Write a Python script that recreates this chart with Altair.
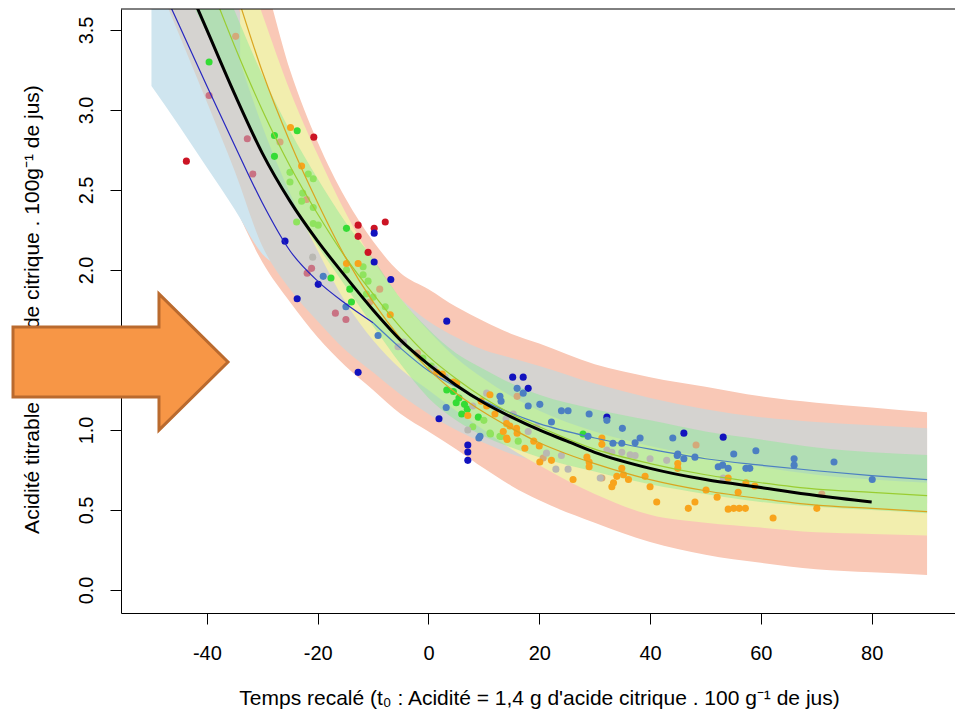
import altair as alt
import pandas as pd

# ---------------- bands (x, lower, upper) ----------------
PK_X = [-45, -40, -35, -30, -25, -20, -15, -10, -5, 0, 5, 10, 15, 20, 30, 40, 50, 60, 70, 80, 90]
PK_HI = [5.2, 4.7, 4.25, 3.85, 3.25, 2.80, 2.45, 2.18, 1.98, 1.88, 1.77, 1.68, 1.60, 1.54, 1.41, 1.33, 1.27, 1.21, 1.17, 1.14, 1.11]
PK_LO = [3.1, 2.75, 2.40, 2.05, 1.80, 1.58, 1.40, 1.25, 1.10, 0.99, 0.88, 0.76, 0.65, 0.56, 0.42, 0.30, 0.22, 0.17, 0.13, 0.11, 0.094]

LB_X = [-50, -45, -40, -35, -30, -25, -20, -15]
LB_HI = [5.0, 4.5, 4.0, 3.5, 3.0, 2.6, 2.3, 2.05]
LB_LO = [3.15, 2.90, 2.64, 2.38, 2.10, 1.98, 1.80, 1.65]

GR_X = [-48, -45, -40, -35, -30, -25, -20, -15, -10, -5, 0, 5, 10, 15, 20, 30, 40, 50, 60, 70, 80, 90]
GR_HI = [5.2, 4.8, 4.2, 3.7, 3.25, 2.85, 2.50, 2.22, 2.00, 1.82, 1.68, 1.58, 1.50, 1.45, 1.40, 1.29, 1.20, 1.13, 1.08, 1.05, 1.03, 1.01]
GR_LO = [3.72, 3.47, 3.05, 2.62, 2.15, 1.88, 1.68, 1.50, 1.36, 1.22, 1.10, 1.00, 0.92, 0.85, 0.80, 0.72, 0.66, 0.62, 0.59, 0.57, 0.55, 0.54]

YL_X = [-34, -30, -25, -20, -15, -10, -5, 0, 5, 10, 15, 20, 30, 40, 50, 60, 70, 80, 90]
YL_HI = [4.0, 3.60, 3.12, 2.72, 2.36, 2.06, 1.82, 1.62, 1.45, 1.32, 1.21, 1.12, 0.99, 0.90, 0.83, 0.77, 0.72, 0.69, 0.67]
YL_LO = [3.3, 2.9, 2.48, 2.12, 1.80, 1.56, 1.38, 1.25, 1.12, 1.00, 0.88, 0.78, 0.60, 0.47, 0.42, 0.39, 0.36, 0.35, 0.34]

GN_X = [-42, -40, -35, -30, -25, -20, -15, -10, -5, 0, 5, 10, 15, 20, 30, 40, 50, 60, 70, 80, 90]
GN_HI = [4.2, 4.05, 3.62, 3.22, 2.87, 2.57, 2.30, 2.07, 1.82, 1.63, 1.48, 1.38, 1.29, 1.22, 1.13, 1.06, 0.99, 0.94, 0.89, 0.86, 0.844]
GN_LO = [3.62, 3.48, 3.10, 2.72, 2.42, 2.15, 1.90, 1.65, 1.41, 1.20, 1.06, 0.96, 0.89, 0.83, 0.74, 0.66, 0.60, 0.55, 0.52, 0.50, 0.48]

# ---------------- fitted curves ----------------
BK_X = [-42, -40, -35, -30, -25, -20, -15, -10, -5, 0, 5, 10, 15, 20, 25, 30, 40, 50, 60, 70, 80]
BK_Y = [3.66, 3.50, 3.10, 2.73, 2.43, 2.18, 1.96, 1.75, 1.56, 1.41, 1.28, 1.17, 1.08, 1.00, 0.93, 0.86, 0.76, 0.69, 0.64, 0.59, 0.55]

NV_X = [-47, -45, -40, -35, -30, -25, -20, -15, -10]
NV_Y = [3.68, 3.53, 3.15, 2.78, 2.42, 2.12, 1.93, 1.79, 1.67]

SB_X = [-10, -5, 0, 5, 10, 20, 30, 40, 50, 60, 70, 80, 90]
SB_Y = [1.67, 1.51, 1.37, 1.27, 1.18, 1.04, 0.95, 0.88, 0.82, 0.78, 0.745, 0.715, 0.69]

GL_X = [-38, -35, -30, -25, -20, -15, -10, -5, 0, 5, 10, 15, 20, 30, 40, 50, 60, 70, 80, 90]
GL_Y = [3.66, 3.40, 3.00, 2.65, 2.35, 2.08, 1.85, 1.64, 1.46, 1.32, 1.20, 1.10, 1.02, 0.88, 0.79, 0.72, 0.67, 0.63, 0.61, 0.59]

OL_X = [-34, -30, -25, -20, -15, -10, -5, 0, 5, 10, 15, 20, 25, 30, 40, 50, 60, 70, 80, 90]
OL_Y = [3.66, 3.24, 2.80, 2.42, 2.08, 1.80, 1.57, 1.38, 1.23, 1.11, 1.01, 0.92, 0.85, 0.79, 0.69, 0.62, 0.57, 0.53, 0.51, 0.49]

# ---------------- observations ----------------
NAVY = [(-25.9, 2.18), (-9.8, 2.23), (-9.8, 2.05), (-6.8, 1.94), (-19.9, 1.91), (-23.7, 1.82), (-12.7, 1.36),
        (3.3, 1.68), (1.9, 1.07), (7.1, 0.906), (7.1, 0.862), (7.1, 0.81), (15.2, 1.33), (17.1, 1.33),
        (18.0, 1.26), (32.2, 1.08), (46.1, 0.98), (53.2, 0.955)]
STEEL = [(-19.0, 1.96), (-14.9, 1.77), (-9.1, 1.59), (3.2, 1.14), (9.1, 0.95), (12.9, 1.21), (13.1, 1.18),
         (16.0, 1.26), (17.1, 1.23), (18.0, 1.15), (20.1, 1.16), (24.0, 1.12), (25.2, 1.12), (29.0, 1.10),
         (32.2, 1.06), (35.0, 1.01), (38.2, 0.95), (37.3, 0.92), (22.2, 1.05), (28.8, 0.96), (33.3, 0.917),
         (34.9, 0.917), (44.1, 0.95), (44.9, 0.84), (46.1, 0.82), (45.0, 0.85), (48.1, 0.83), (55.1, 0.85),
         (59.1, 0.87), (52.3, 0.77), (53.1, 0.78), (54.1, 0.76), (57.3, 0.76), (58.0, 0.76), (66.0, 0.82),
         (66.0, 0.78), (73.2, 0.80), (80.1, 0.69), (9.3, 0.96)]
RED = [(-43.7, 2.68), (-20.7, 2.83), (-12.7, 2.28), (-12.7, 2.21), (-9.8, 2.26), (-7.8, 2.30), (-10.9, 2.11)]
ROSY = [(-39.6, 3.09), (-32.7, 2.82), (-31.7, 2.60), (-21.1, 2.01), (-21.9, 1.98), (-16.8, 1.73), (-14.9, 1.69)]
LIME = [(-39.6, 3.30), (-27.8, 2.84), (-23.7, 2.87), (-27.8, 2.71), (-14.8, 2.26), (-17.6, 1.95), (-14.2, 1.88),
        (-13.9, 1.80), (3.3, 1.25), (4.5, 1.24), (5.5, 1.20), (6.5, 1.16), (5.0, 1.17), (7.0, 1.13), (6.0, 1.10),
        (27.9, 0.975), (9.0, 1.08)]
LGREEN = [(-25.0, 2.61), (-25.0, 2.55), (-21.7, 2.60), (-20.8, 2.57), (-22.7, 2.48), (-22.9, 2.43), (-20.8, 2.39),
          (-23.8, 2.30), (-20.8, 2.29), (-19.9, 2.28), (-11.8, 2.02), (-14.8, 2.00), (-11.8, 1.97), (-10.9, 1.93),
          (-11.2, 1.85), (-10.0, 1.83), (-7.8, 1.77), (-1.0, 1.45), (0.5, 1.40), (11.1, 0.98), (13.2, 0.96),
          (12.9, 0.96), (11.2, 0.975), (16.2, 0.93), (10.0, 1.06), (8.0, 1.02)]
ORANGE = [(-24.9, 2.89), (-22.9, 2.65), (-14.8, 2.04), (-12.7, 2.04), (-6.9, 1.72), (1.5, 1.36), (4.5, 1.30),
          (5.1, 1.29), (7.1, 1.09), (11.1, 1.22), (14.1, 1.04), (14.1, 0.95), (14.7, 1.025), (15.9, 1.01),
          (14.2, 0.94), (17.4, 0.886), (20.1, 0.80), (22.2, 0.81), (26.1, 0.69), (28.6, 0.83), (29.0, 0.80),
          (29.0, 0.77), (31.3, 0.95), (31.3, 0.91), (34.0, 0.71), (35.2, 0.72), (36.1, 0.69), (33.4, 0.67),
          (33.1, 0.645), (34.9, 0.76), (39.1, 0.71), (40.0, 0.645), (41.2, 0.55), (46.9, 0.51), (45.0, 0.79),
          (45.0, 0.76), (50.1, 0.625), (48.1, 0.55), (52.1, 0.58), (54.1, 0.70), (55.9, 0.61), (54.1, 0.505),
          (55.1, 0.51), (56.1, 0.51), (57.2, 0.51), (57.3, 0.67), (58.9, 0.65), (62.2, 0.45), (70.1, 0.51),
          (2.5, 1.35), (9.5, 1.18), (10.5, 1.15), (12.0, 1.10), (16.0, 0.98), (19.0, 0.93), (20.0, 0.90), (13.5, 0.99)]
GRAY = [(-20.9, 2.08), (-5.5, 1.52), (10.5, 1.23), (7.1, 1.00), (8.0, 1.15), (15.3, 1.10), (19.5, 1.02),
        (21.3, 0.855), (23.0, 0.755), (25.2, 0.755), (24.0, 0.84), (31.0, 0.70), (32.2, 0.875), (33.1, 0.86),
        (34.9, 0.86), (36.4, 0.845), (37.3, 0.84), (40.0, 0.82), (43.0, 0.81), (53.2, 0.70), (3.0, 1.33),
        (14.0, 1.07), (18.0, 0.99), (-4.5, 1.55), (1.0, 1.38)]
TAN = [(-34.8, 3.46), (-26.8, 2.80), (-22.0, 2.44), (-10.6, 1.80), (-8.8, 1.88), (16.0, 1.21), (20.7, 0.825),
       (31.3, 0.70), (48.3, 0.906), (71.0, 0.60), (-2.0, 1.48)]

GROUPS = ["rosy", "tan", "red", "lime", "lgreen", "gray", "navy", "steel", "orange"]
GROUP_COLORS = ["#C97283", "#D4A97A", "#CC1424", "#35DC35", "#8FE35E", "#B9B8B2", "#1212BE", "#4C7FC2", "#F8A41C"]
GROUP_DATA = [ROSY, TAN, RED, LIME, LGREEN, GRAY, NAVY, STEEL, ORANGE]

X_TICKS = [-40, -20, 0, 20, 40, 60, 80]
Y_TICKS = [0.0, 0.5, 1.0, 1.5, 2.0, 2.5, 3.0, 3.5]

X_TITLE = "Temps recalé (t\u2080 : Acidité = 1,4 g d'acide citrique . 100 g\u207b\u00b9 de jus)"
Y_TITLE = "Acidité titrable (g d'acide citrique . 100g\u207b\u00b9 de jus)"

FONT = "Liberation Sans"
W, H = 834, 604

xscale = alt.Scale(domain=[-55.5, 95.04], nice=False, zero=False)
yscale = alt.Scale(domain=[-0.144, 3.631], nice=False, zero=False)

xaxis = alt.Axis(values=X_TICKS, labelExpr="toString(datum.value)", title=X_TITLE, grid=False,
                 tickSize=11, tickColor="black", domainColor="black", labelColor="black",
                 labelFont=FONT, labelFontSize=20, labelPadding=35, labelBaseline="alphabetic",
                 titleFont=FONT, titleFontSize=21, titleFontWeight="normal", titleColor="black",
                 titleX=418, titleY=91, titleAlign="center", titleBaseline="alphabetic")
yaxis = alt.Axis(values=Y_TICKS, format=".1f", title=Y_TITLE, grid=False,
                 tickSize=11, tickColor="black", domainColor="black", labelColor="black",
                 labelFont=FONT, labelFontSize=20, labelPadding=18, labelAngle=270,
                 labelAlign="center", labelBaseline="alphabetic",
                 titleFont=FONT, titleFontSize=21, titleFontWeight="normal", titleColor="black",
                 titleAngle=270, titleX=-83, titleY=300, titleAlign="center", titleBaseline="alphabetic")


def X(f):
    return alt.X(f, type="quantitative", scale=xscale, axis=xaxis)


def Y(f):
    return alt.Y(f, type="quantitative", scale=yscale, axis=yaxis)


def band(xs, lo, hi, color, opacity=1.0):
    df = pd.DataFrame({"x": xs, "lo": lo, "hi": hi})
    return alt.Chart(df).mark_area(color=color, opacity=opacity, clip=True, interpolate="monotone").encode(
        x=X("x"), y=Y("lo"), y2=alt.Y2("hi"))


def curve(xs, ys, color, width):
    df = pd.DataFrame({"x": xs, "y": ys})
    return alt.Chart(df).mark_line(color=color, strokeWidth=width, clip=True, interpolate="monotone").encode(
        x=X("x"), y=Y("y"))


rows = []
for g, pts in zip(GROUPS, GROUP_DATA):
    for (px, py) in pts:
        rows.append({"x": px, "y": py, "g": g})
pts_df = pd.DataFrame(rows)

points = alt.Chart(pts_df).mark_circle(size=50, opacity=1, clip=True).encode(
    x=X("x"), y=Y("y"),
    color=alt.Color("g:N", scale=alt.Scale(domain=GROUPS, range=GROUP_COLORS), legend=None))

one = pd.DataFrame({"k": [0]})
top_border = alt.Chart(one).mark_rule(color="black", strokeWidth=1).encode(
    x=alt.value(0), x2=alt.value(W), y=alt.value(0))

ARROW = "M -1 -0.326 L 0.358 -0.326 L 0.358 -0.633 L 1 0 L 0.358 0.633 L 0.358 0.326 L -1 0.326 Z"
arrow = alt.Chart(one).mark_point(shape=ARROW, size=46225, filled=True, fill="#F79646",
                                  stroke="#BA6A2E", strokeWidth=3, opacity=1).encode(
    x=alt.value(-0.5), y=alt.value(353))

chart = alt.layer(
    band(PK_X, PK_LO, PK_HI, "#F9C8B6"),
    band(LB_X, LB_LO, LB_HI, "#CFE5EF"),
    band(GR_X, GR_LO, GR_HI, "#D5D3D0"),
    band(YL_X, YL_LO, YL_HI, "#F2EEAE"),
    band(GN_X, GN_LO, GN_HI, "#90E998", 0.5),
    points,
    curve(NV_X, NV_Y, "#2626C0", 1.2),
    curve(SB_X, SB_Y, "#4C7FC2", 1.2),
    curve(GL_X, GL_Y, "#9ACD32", 1.2),
    curve(OL_X, OL_Y, "#DAA520", 1.2),
    curve(BK_X, BK_Y, "black", 3),
    top_border,
    arrow,
).properties(
    width=W, height=H, autosize="none",
    padding={"left": 121, "top": 9, "right": 0, "bottom": 98},
    background="white",
).configure_view(stroke=None)

chart.save("out.html", embed_options={"renderer": "svg", "actions": False})
